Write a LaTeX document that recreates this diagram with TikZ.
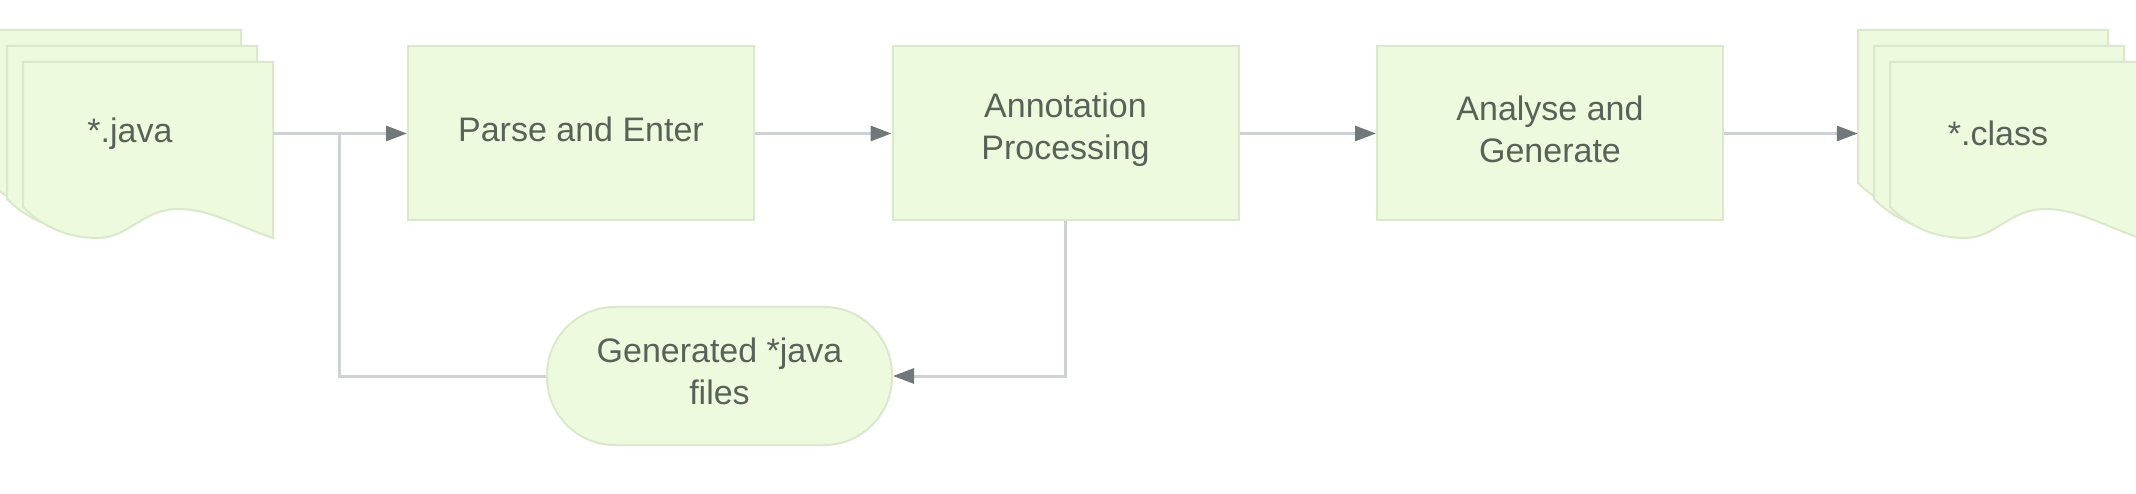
\documentclass[tikz,border=0pt]{standalone}
\usepackage{fontspec}
\setmainfont{Liberation Sans}
\usetikzlibrary{arrows.meta}
\definecolor{boxfill}{RGB}{237,250,222}
\definecolor{boxline}{RGB}{218,232,204}
\definecolor{txt}{RGB}{88,98,88}
\definecolor{connline}{RGB}{206,210,214}
\definecolor{tipcol}{RGB}{112,120,122}
\tikzset{
  procbox/.style={draw=boxline, line width=2pt, fill=boxfill, minimum width=346pt, minimum height=174pt, inner sep=0pt},
  pillbox/.style={draw=boxline, line width=2pt, fill=boxfill, minimum width=345pt, minimum height=138pt, rounded corners=68pt, inner sep=0pt},
  labeltext/.style={text=txt, inner sep=0pt, align=center, font=\fontsize{34}{42}\selectfont},
  docarea/.style={inner sep=0pt, minimum height=176pt},
  sheetstyle/.style={draw=boxline, line width=2pt, fill=boxfill},
  conn/.style={draw=connline, line width=3pt},
  tipped/.style={-{Triangle[length=21pt,width=15pt,color=tipcol]}}
}
\newcommand\docsheet[3]{%
  \filldraw[sheetstyle] (#1,#2) -- (#1+250,#2) -- (#1+250,#2+176+#3)
   .. controls (#1+212,#2+163+#3) and (#1+187,#2+147+#3) .. (#1+155,#2+147+#3)
   .. controls (#1+120,#2+147+#3) and (#1+105,#2+176+#3) .. (#1+75,#2+176+#3)
   .. controls (#1+45,#2+176+#3) and (#1+20,#2+165+#3) .. (#1,#2+145+#3) -- cycle;}
\begin{document}
\begin{tikzpicture}[x=1pt,y=-1pt]
\clip (0,0) rectangle (2136,494);
\fill[white] (0,0) rectangle (2136,494);
% input documents
\docsheet{-9}{30}{8}
\docsheet{7}{46}{8}
\docsheet{23}{62}{0}
\node[docarea, minimum width=282pt] (java) at (132,150) {};
\node[labeltext] (javat) at (130,133.5) {*.java};
% output documents
\docsheet{1858}{30}{8}
\docsheet{1874}{46}{8}
\docsheet{1890}{62}{0}
\node[docarea, minimum width=282pt] (class) at (1999,150) {};
\node[labeltext] (classt) at (1998,133.5) {*.class};
% process boxes
\node[procbox] (parse) at (581,133.5) {};
\node[labeltext] (parset) at ([yshift=4pt]parse.center) {Parse and Enter};
\node[procbox] (anno) at (1065.5,133.5) {};
\node[labeltext] (annot) at ([yshift=4pt]anno.center) {Annotation\\Processing};
\node[procbox] (analyse) at (1550,133.5) {};
\node[labeltext] (analyset) at ([yshift=4pt]analyse.center) {Analyse and\\Generate};
\node[pillbox] (gen) at (719.5,376) {};
\node[labeltext] (gent) at ([yshift=5pt]gen.center) {Generated *java\\files};
\coordinate (branch) at (339,133.5);
% connectors
\draw[conn, tipped] (javat -| java.east) -- (parse.west);
\draw[conn] (gen.west) -| (branch);
\draw[conn, tipped] (parse.east) -- (anno.west);
\draw[conn, tipped] (anno.east) -- (analyse.west);
\draw[conn, tipped] (analyse.east) -- (classt -| class.west);
\draw[conn, tipped] (anno.south) |- (gen.east);
\end{tikzpicture}
\end{document}
